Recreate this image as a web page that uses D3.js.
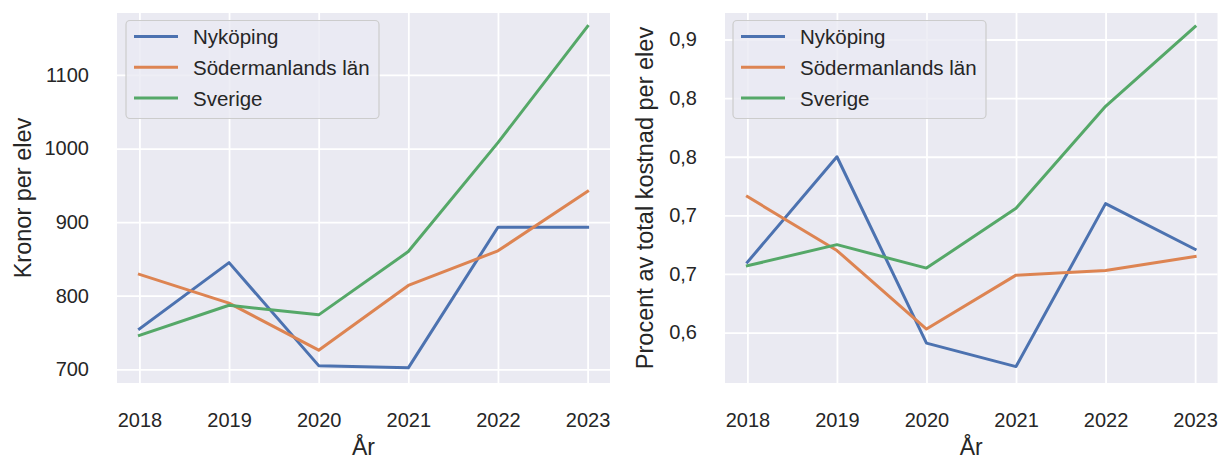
<!DOCTYPE html>
<html>
<head>
<meta charset="utf-8">
<script src="https://cdn.jsdelivr.net/npm/d3@7"></script>
<style>
  html, body { margin: 0; padding: 0; background: #ffffff; }
  svg { display: block; font-family: "Liberation Sans", Arial, sans-serif; }
</style>
</head>
<body>
<svg id="chart" width="1221" height="459"></svg>
<script>
// ---- data ----
const years = [2018, 2019, 2020, 2021, 2022, 2023];
const seriesNames = ["Nyköping", "Södermanlands län", "Sverige"];

const kronorNykoping      = [755, 845, 705, 702, 893, 893];
const kronorSodermanland  = [829, 790, 726, 814, 861, 942];
const kronorSverige       = [746, 787, 774, 860, 1008, 1166];

const procentNykoping     = [0.710, 0.800, 0.641, 0.621, 0.760, 0.721];
const procentSodermanland = [0.766, 0.720, 0.653, 0.699, 0.703, 0.715];
const procentSverige      = [0.707, 0.725, 0.705, 0.756, 0.843, 0.911];

const kronorTicks = [700, 800, 900, 1000, 1100];
const kronorTickLabels = ["700", "800", "900", "1000", "1100"];
const procentTicks = [0.65, 0.70, 0.75, 0.80, 0.85, 0.90];
const procentTickLabels = ["0,6", "0,7", "0,7", "0,8", "0,8", "0,9"];

const xLabel = "År";
const leftYLabel = "Kronor per elev";
const rightYLabel = "Procent av total kostnad per elev";

// ---- style ----
const colors = ["#4C72B0", "#DD8452", "#55A868"];
const textColor = "#262626";
const svg = d3.select("#chart");

function drawPanel(cfg) {
  const { left, right, top, bottom, yDomain, yTicks, yTickLabels, series, yLabel, yLabelX, legend } = cfg;
  const g = svg.append("g");

  const x = d3.scaleLinear().domain([2017.75, 2023.25]).range([left, right]);
  const y = d3.scaleLinear().domain(yDomain).range([bottom, top]);

  // background
  g.append("rect")
    .attr("x", left).attr("y", top)
    .attr("width", right - left).attr("height", bottom - top)
    .attr("fill", "#EAEAF2");

  // grid via axes
  const xGrid = d3.axisBottom(x).tickValues(years).tickSize(-(bottom - top)).tickFormat("");
  g.append("g").attr("transform", `translate(0,${bottom})`).call(xGrid)
    .call(s => s.select(".domain").remove())
    .call(s => s.selectAll("line").attr("stroke", "#ffffff").attr("stroke-width", 1.8));

  const yGrid = d3.axisLeft(y).tickValues(yTicks).tickSize(-(right - left)).tickFormat("");
  g.append("g").attr("transform", `translate(${left},0)`).call(yGrid)
    .call(s => s.select(".domain").remove())
    .call(s => s.selectAll("line").attr("stroke", "#ffffff").attr("stroke-width", 1.8));

  // tick labels via axes
  const xAxis = d3.axisBottom(x).tickValues(years).tickSize(0).tickPadding(0).tickFormat(d3.format("d"));
  g.append("g").attr("transform", `translate(0,${bottom})`).call(xAxis)
    .call(s => s.select(".domain").remove())
    .call(s => s.selectAll("text")
      .attr("y", 44).attr("dy", null)
      .attr("fill", textColor).attr("font-size", "20px")
      .attr("font-family", "'Liberation Sans', Arial, sans-serif"));

  const yAxis = d3.axisLeft(y).tickValues(yTicks).tickSize(0).tickPadding(28)
    .tickFormat((d, i) => yTickLabels[i]);
  g.append("g").attr("transform", `translate(${left},0)`).call(yAxis)
    .call(s => s.select(".domain").remove())
    .call(s => s.selectAll("text")
      .attr("fill", textColor).attr("font-size", "20px")
      .attr("font-family", "'Liberation Sans', Arial, sans-serif"));

  // lines
  const line = d3.line().x((d, i) => x(years[i])).y(d => y(d));
  series.forEach((vals, k) => {
    g.append("path")
      .datum(vals)
      .attr("d", line)
      .attr("fill", "none")
      .attr("stroke", colors[k])
      .attr("stroke-width", 3)
      .attr("stroke-linejoin", "round")
      .attr("stroke-linecap", "square");
  });

  // axis labels
  g.append("text")
    .attr("x", (left + right) / 2).attr("y", 455)
    .attr("text-anchor", "middle")
    .attr("fill", textColor).attr("font-size", "23px")
    .text(xLabel);

  g.append("text")
    .attr("transform", `translate(${yLabelX},${(top + bottom) / 2}) rotate(-90)`)
    .attr("text-anchor", "middle")
    .attr("fill", textColor).attr("font-size", "23.5px")
    .text(yLabel);

  // legend
  const lg = g.append("g");
  lg.append("rect")
    .attr("x", legend.x).attr("y", legend.y)
    .attr("width", legend.w).attr("height", legend.h)
    .attr("rx", 4).attr("ry", 4)
    .attr("fill", "#EAEAF2").attr("fill-opacity", 0.8)
    .attr("stroke", "#cccccc").attr("stroke-width", 1.2);
  seriesNames.forEach((name, k) => {
    const cy = legend.y + 16 + k * 30.8;
    lg.append("line")
      .attr("x1", legend.x + 8).attr("x2", legend.x + 52)
      .attr("y1", cy).attr("y2", cy)
      .attr("stroke", colors[k]).attr("stroke-width", 3);
    lg.append("text")
      .attr("x", legend.x + 67).attr("y", cy)
      .attr("dominant-baseline", "central")
      .attr("fill", textColor).attr("font-size", "20.5px")
      .text(name);
  });
}

drawPanel({
  left: 117, right: 610, top: 13, bottom: 383,
  yDomain: [681.4, 1184.2],
  yTicks: kronorTicks, yTickLabels: kronorTickLabels,
  series: [kronorNykoping, kronorSodermanland, kronorSverige],
  yLabel: leftYLabel, yLabelX: 31,
  legend: { x: 126, y: 20.5, w: 253, h: 98 }
});

drawPanel({
  left: 725, right: 1217.5, top: 13, bottom: 383,
  yDomain: [0.607, 0.9226],
  yTicks: procentTicks, yTickLabels: procentTickLabels,
  series: [procentNykoping, procentSodermanland, procentSverige],
  yLabel: rightYLabel, yLabelX: 653,
  legend: { x: 733, y: 20.5, w: 253, h: 98 }
});
</script>
</body>
</html>
